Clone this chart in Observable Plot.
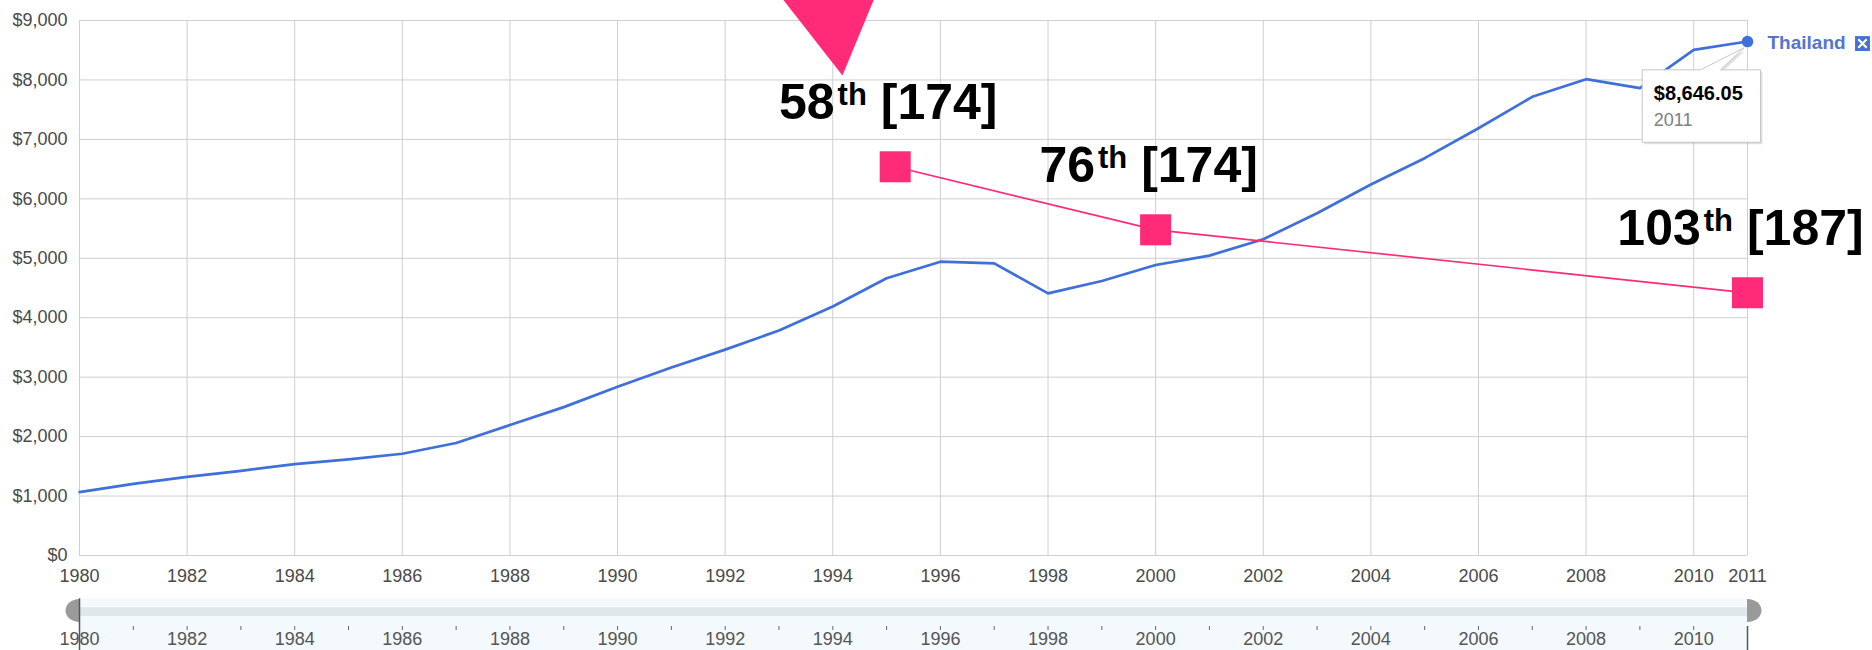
<!DOCTYPE html>
<html>
<head>
<meta charset="utf-8">
<script src="https://cdn.jsdelivr.net/npm/d3@7"></script>
<script src="https://cdn.jsdelivr.net/npm/@observablehq/plot@0.6"></script>
<style>
  html, body { margin: 0; padding: 0; background: #ffffff; }
  #chart svg { display: block; }
</style>
</head>
<body>
<div id="chart"></div>
<script>
// ---------- data ----------
const seriesName = "Thailand";
const years = [1980, 1981, 1982, 1983, 1984, 1985, 1986, 1987, 1988, 1989,
               1990, 1991, 1992, 1993, 1994, 1995, 1996, 1997, 1998, 1999,
               2000, 2001, 2002, 2003, 2004, 2005, 2006, 2007, 2008, 2009,
               2010, 2011];
const gdpPerCapita = [1066, 1205, 1323, 1424, 1537, 1616, 1712, 1892, 2195, 2496,
                      2839, 3161, 3463, 3785, 4188, 4663, 4943, 4915, 4410, 4618,
                      4887, 5045, 5321, 5758, 6241, 6684, 7188, 7716, 8013, 7862,
                      8507, 8646.05];
const xTicks = [1980, 1982, 1984, 1986, 1988, 1990, 1992, 1994, 1996, 1998,
                2000, 2002, 2004, 2006, 2008, 2010, 2011];
const yTicks = [0, 1000, 2000, 3000, 4000, 5000, 6000, 7000, 8000, 9000];
const sliderLabels = [1980, 1982, 1984, 1986, 1988, 1990, 1992, 1994, 1996, 1998,
                      2000, 2002, 2004, 2006, 2008, 2010];
const sliderMinorTicks = years.filter(y => y > 1980 && y < 2011);

// rank overlay (pink)
const rankYears = [1995.16, 2000, 2011];
const rankLevels = [6539, 5479, 4419];
const ranks = [58, 76, 103];
const rankTotals = [174, 174, 187];
const rankSuffix = "th";
const pointerYear = [1994.18];
const pointerLevel = [8075];

// ---------- tables ----------
const gdp = years.map((year, i) => ({year, value: gdpPerCapita[i]}));
const last = [gdp[gdp.length - 1]];
const rankData = rankYears.map((year, i) => ({year, level: rankLevels[i], rank: ranks[i], total: rankTotals[i]}));
const pointer = pointerYear.map((year, i) => ({year, level: pointerLevel[i]}));

// ---------- style ----------
const FONT = "'Liberation Sans', Arial, Helvetica, sans-serif";
const BLUE = "#3f6fd8";
const PINK = "#ff2a78";
const GRID = "#cfcfcf";

// custom shapes (relative to anchor point)
const triangleShape = {draw(ctx) {
  ctx.moveTo(0, 0); ctx.lineTo(-70.4, -90); ctx.lineTo(37.2, -90); ctx.closePath();
}};
const tipShape = {draw(ctx) {
  ctx.moveTo(-105.3, 28.3);
  ctx.lineTo(-47, 28.3);
  ctx.lineTo(-3.7, 6.5);
  ctx.lineTo(-27, 28.3);
  ctx.lineTo(13, 28.3);
  ctx.lineTo(13, 100.7);
  ctx.lineTo(-105.3, 100.7);
  ctx.closePath();
}};
function ellipseShape(rx, ry) {
  const k = 0.5523;
  return {draw(ctx) {
    ctx.moveTo(rx, 0);
    ctx.bezierCurveTo(rx, ry * k, rx * k, ry, 0, ry);
    ctx.bezierCurveTo(-rx * k, ry, -rx, ry * k, -rx, 0);
    ctx.bezierCurveTo(-rx, -ry * k, -rx * k, -ry, 0, -ry);
    ctx.bezierCurveTo(rx * k, -ry, rx, -ry * k, rx, 0);
    ctx.closePath();
  }};
}

const main = Plot.plot({
  width: 1872,
  height: 596,
  marginLeft: 79,
  marginRight: 125,
  marginTop: 20,
  marginBottom: 41,
  style: {fontFamily: FONT, fontSize: "18px", color: "#4a4a4a", background: "#ffffff", overflow: "visible"},
  x: {domain: [1980, 2011], ticks: xTicks, tickFormat: d => String(d), tickSize: 0, tickPadding: 14, label: null},
  y: {domain: [0, 9000], ticks: yTicks, tickFormat: d => "$" + d3.format(",")(d), tickSize: 0, tickPadding: 12, label: null},
  marks: [
    Plot.ruleY(yTicks, {stroke: GRID, strokeWidth: 1}),
    Plot.ruleX(xTicks, {stroke: GRID, strokeWidth: 1}),
    Plot.line(gdp, {x: "year", y: "value", stroke: BLUE, strokeWidth: 2.7}),
    Plot.line(rankData, {x: "year", y: "level", stroke: PINK, strokeWidth: 1.7}),
    Plot.dot(rankData, {x: "year", y: "level", symbol: "square", r: 17.5, fill: PINK, stroke: "none"}),
    Plot.text(rankData, {x: "year", y: "level", text: d => `${d.rank}${rankSuffix} [${d.total}]`,
      dx: -7, dy: -47.5, lineAnchor: "bottom", textAnchor: "middle",
      fontSize: 50, fontWeight: "bold", fill: "#000"}),
    Plot.dot(pointer, {x: "year", y: "level", symbol: triangleShape, fill: PINK, stroke: "none"}),
    // tooltip
    Plot.dot(last, {x: "year", y: "value", symbol: tipShape, dx: 2, dy: 2, fill: "#000", fillOpacity: 0.12, stroke: "none"}),
    Plot.dot(last, {x: "year", y: "value", symbol: tipShape, fill: "#fff", stroke: "#c6c6c6", strokeWidth: 1}),
    Plot.text(last, {x: "year", y: "value", text: d => "$" + d3.format(",.2f")(d.value),
      dx: -93.7, dy: 58.5, textAnchor: "start", lineAnchor: "bottom", fontSize: 20, fontWeight: "bold", fill: "#000"}),
    Plot.text(last, {x: "year", y: "value", text: d => String(d.year),
      dx: -93.7, dy: 84, textAnchor: "start", lineAnchor: "bottom", fontSize: 18, fill: "#808080"}),
    // end point + series label
    Plot.dot(last, {x: "year", y: "value", r: 5.8, fill: BLUE, stroke: "none"}),
    Plot.text(last, {x: "year", y: "value", text: () => seriesName, dx: 20, dy: 1,
      textAnchor: "start", fontSize: 19, fontWeight: "bold", fill: "#5474d0"}),
    Plot.dot(last, {x: "year", y: "value", symbol: "square", r: 8.4, dx: 115, dy: 2, fill: "#4a6fd3", stroke: "none"}),
    Plot.dot(last, {x: "year", y: "value", symbol: "times", r: 3.9, dx: 115, dy: 2, fill: "none", stroke: "#fff", strokeWidth: 2.2})
  ]
});

// superscript suffix in rank labels
const labelPattern = /^(\d+)(th) (\[\d+\])$/;
d3.select(main).selectAll("text").each(function () {
  const m = labelPattern.exec(this.textContent);
  if (!m) return;
  const t = d3.select(this);
  t.text(null);
  t.append("tspan").text(m[1]);
  t.append("tspan").attr("font-size", 31).attr("dx", 3).attr("dy", -14).text(m[2]);
  t.append("tspan").attr("dy", 14).text(" " + m[3]);
});

const slider = Plot.plot({
  width: 1872,
  height: 54,
  marginLeft: 79,
  marginRight: 125,
  marginTop: 0,
  marginBottom: 0,
  style: {fontFamily: FONT, fontSize: "18px", color: "#4a4a4a", background: "#ffffff", overflow: "visible"},
  x: {domain: [1980, 2011], axis: null},
  y: {domain: [54, 0], axis: null},
  marks: [
    Plot.dot([1980, 2011], {x: d => d, y: 14, symbol: ellipseShape(14, 11.5), fill: "#9a9a9a", stroke: "none"}),
    Plot.rect([0], {x1: 1980, x2: 2011, y1: 2.3, y2: 54, fill: "#f3f9fd"}),
    Plot.rect([0], {x1: 1980, x2: 2011, y1: 11.3, y2: 20, fill: "#e0e7ea"}),
    Plot.ruleX(sliderMinorTicks, {y1: 30, y2: 34, stroke: "#666", strokeWidth: 1}),
    Plot.text(sliderLabels, {x: d => d, y: 43, text: d => String(d), fill: "#555", fontSize: 18}),
    Plot.ruleX([1980], {y1: 2.3, y2: 54, stroke: "#555", strokeWidth: 1.5}),
    Plot.ruleX([2011], {y1: 30, y2: 54, stroke: "#555", strokeWidth: 1.5})
  ]
});

const chart = document.getElementById("chart");
chart.appendChild(main);
chart.appendChild(slider);
</script>
</body>
</html>
